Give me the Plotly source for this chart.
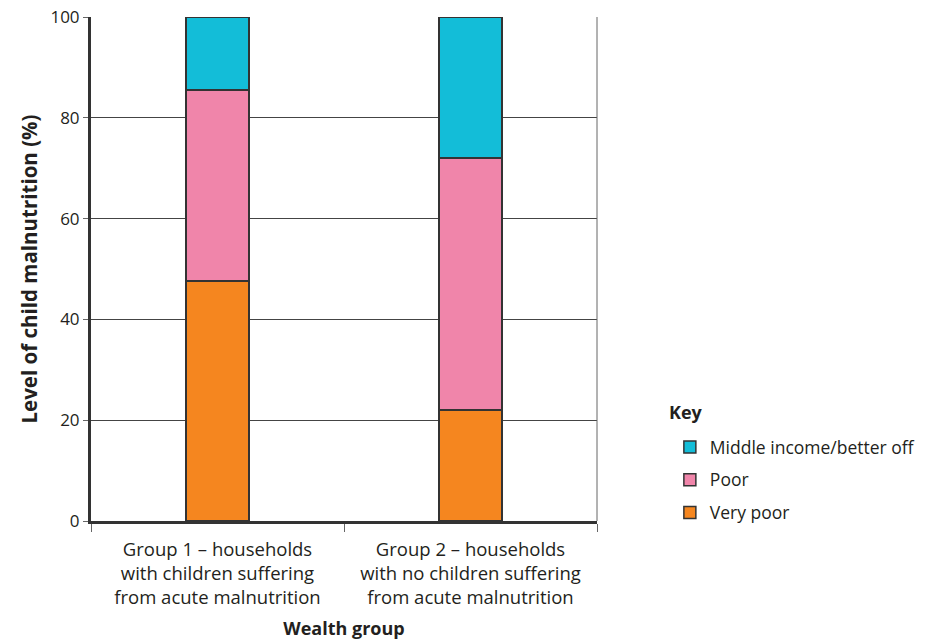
import plotly.graph_objects as go

categories = [
    "Group 1 – households<br>with children suffering<br>from acute malnutrition",
    "Group 2 – households<br>with no children suffering<br>from acute malnutrition",
]
very_poor = [47.6, 22.0]
poor = [37.9, 50.0]
middle = [14.5, 28.0]
y_ticks = [0, 20, 40, 60, 80, 100]

series = [
    ("Very poor", very_poor, "#F5861F", 3),
    ("Poor", poor, "#F085AA", 2),
    ("Middle income/better off", middle, "#13BDD8", 1),
]
FONT = "'Open Sans', Lato, sans-serif"

fig = go.Figure()
for name, vals, col, rank in series:
    fig.add_trace(go.Bar(
        x=categories, y=vals, name=name, legendgroup=name, legendrank=rank,
        marker=dict(color=col, line=dict(color="#333333", width=1.5)),
        width=0.25,
    ))

fig.update_layout(
    barmode="stack",
    width=928, height=641,
    margin=dict(l=91, r=331, t=17, b=120, autoexpand=False),
    paper_bgcolor="white", plot_bgcolor="white",
    font=dict(family=FONT, size=17, color="#231f20"),
    showlegend=True,
    legend=dict(
        traceorder="grouped",
        x=1.144, xanchor="left", y=0.1825, yanchor="top",
        font=dict(size=17.5), tracegroupgap=7,
        bgcolor="rgba(0,0,0,0)",
    ),
    xaxis=dict(
        automargin=False,
        showline=True, linewidth=3, linecolor="#333333",
        ticks="outside", tickson="boundaries", ticklen=8, tickcolor="#666666", tickwidth=1,
        ticklabelstandoff=10,
        showgrid=False,
        title=dict(text="<b>Wealth group</b>", font=dict(size=18), standoff=15),
        tickfont=dict(size=18.5),
    ),
    yaxis=dict(
        automargin=False,
        range=[0, 100], tickvals=y_ticks,
        ticklabeloverflow="allow",
        showline=True, linewidth=3, linecolor="#333333",
        ticks="outside", ticklen=5, tickcolor="#666666",
        showgrid=True, gridcolor="#444444", gridwidth=1,
        zeroline=False,
        title=dict(text="<b>Level of child malnutrition (%)</b>", font=dict(size=20.5), standoff=8),
        tickfont=dict(size=17),
    ),
    annotations=[dict(
        text="<b>Key</b>", xref="paper", yref="paper", x=1.138, y=0.216,
        xanchor="left", yanchor="middle", showarrow=False, font=dict(size=18),
    )],
)
fig.add_shape(type="line", xref="paper", yref="paper", x0=1, x1=1, y0=0, y1=1,
              line=dict(color="#666666", width=1))

fig.write_html("out.html", config={"displayModeBar": False},
               post_script="document.body.style.margin='0';")
